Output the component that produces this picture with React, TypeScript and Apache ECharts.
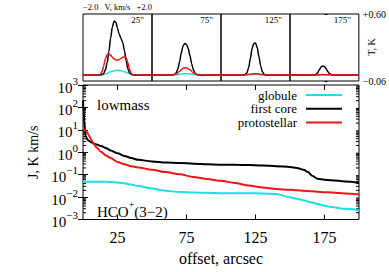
import React, { useEffect, useRef } from 'react';
import * as echarts from 'echarts';

const FONT = '"Liberation Serif", "Times New Roman", serif';
const CYAN = '#18e0e6';
const RED = '#f01414';
const BLACK = '#000000';

// ---- main plot: integrated intensity J vs offset ----
const offsets = [0, 0.5, 1, 1.5, 2, 3, 4, 5, 6, 8, 10, 13, 17, 20, 25, 30, 35, 40, 50, 60, 70, 80, 90, 100, 110, 120, 130, 140, 150, 155, 160, 163, 166, 170, 175, 180, 190, 200];
const firstCore = [200, 60, 20, 9, 5.5, 3.8, 3.3, 3.0, 2.8, 2.4, 2.2, 1.9, 1.5, 1.2, 0.9, 0.68, 0.55, 0.46, 0.39, 0.35, 0.33, 0.31, 0.29, 0.28, 0.275, 0.27, 0.255, 0.24, 0.22, 0.2, 0.165, 0.13, 0.09, 0.065, 0.059, 0.056, 0.05, 0.043];
const protostellar = [10, 10, 9.8, 9.5, 9.2, 7.8, 6.2, 4.6, 3.5, 2.3, 1.6, 1.05, 0.7, 0.55, 0.37, 0.29, 0.24, 0.21, 0.165, 0.13, 0.105, 0.078, 0.064, 0.053, 0.043, 0.033, 0.027, 0.023, 0.021, 0.02, 0.019, 0.0185, 0.018, 0.0175, 0.0165, 0.016, 0.0145, 0.013];
const globule = [0.048, 0.048, 0.048, 0.048, 0.048, 0.048, 0.048, 0.048, 0.048, 0.048, 0.048, 0.048, 0.048, 0.047, 0.045, 0.041, 0.036, 0.031, 0.024, 0.019, 0.017, 0.016, 0.0155, 0.015, 0.015, 0.0148, 0.0145, 0.0138, 0.0098, 0.0085, 0.0072, 0.0064, 0.0057, 0.0049, 0.0041, 0.0036, 0.003, 0.0026];

const xTickValues = [25, 75, 125, 175];
const decades = [-3, -2, -1, 0, 1, 2];
const minorMultipliers = [2, 3, 4, 5, 6, 7, 8, 9];

// ---- top panels: spectra T vs V ----
const panelLabels = ['25"', '75"', '125"', '175"'];
const spec25Cyan = [[-2, 0], [-1.0, 0], [-0.8, 0.005], [-0.6, 0.015], [-0.4, 0.03], [-0.2, 0.042], [0, 0.045], [0.2, 0.042], [0.4, 0.032], [0.6, 0.018], [0.8, 0.006], [1.0, 0], [2, 0]];
const spec25Black = [[-2, 0], [-1.0, 0], [-0.9, 0.003], [-0.8, 0.015], [-0.7, 0.05], [-0.6, 0.12], [-0.5, 0.23], [-0.4, 0.36], [-0.3, 0.47], [-0.2, 0.53], [-0.1, 0.52], [0, 0.46], [0.1, 0.4], [0.2, 0.36], [0.3, 0.32], [0.4, 0.24], [0.5, 0.14], [0.6, 0.06], [0.7, 0.02], [0.8, 0.005], [0.9, 0], [2, 0]];
const spec25Red = [[-2, 0], [-1.1, 0], [-1.0, 0.005], [-0.9, 0.03], [-0.8, 0.09], [-0.7, 0.16], [-0.6, 0.2], [-0.5, 0.205], [-0.4, 0.195], [-0.3, 0.175], [-0.2, 0.158], [-0.1, 0.148], [0, 0.146], [0.1, 0.15], [0.2, 0.162], [0.3, 0.175], [0.4, 0.18], [0.5, 0.17], [0.6, 0.12], [0.7, 0.05], [0.8, 0.012], [0.9, 0.002], [1.0, 0], [2, 0]];
const spec75Cyan = [[-2, 0], [-0.8, 0], [-0.5, 0.004], [-0.2, 0.011], [0, 0.012], [0.2, 0.01], [0.5, 0.003], [0.8, 0], [2, 0]];
const spec75Black = [[-2, 0], [-0.8, 0], [-0.7, 0.005], [-0.6, 0.02], [-0.5, 0.06], [-0.4, 0.13], [-0.3, 0.22], [-0.2, 0.285], [-0.1, 0.31], [0, 0.3], [0.1, 0.26], [0.2, 0.19], [0.3, 0.11], [0.4, 0.05], [0.5, 0.015], [0.6, 0.003], [0.7, 0], [2, 0]];
const spec75Red = [[-2, 0], [-0.8, 0], [-0.6, 0.008], [-0.4, 0.035], [-0.2, 0.065], [-0.1, 0.07], [0, 0.068], [0.2, 0.05], [0.4, 0.02], [0.6, 0.004], [0.8, 0], [2, 0]];
const spec125Cyan = [[-2, 0], [-0.6, 0], [-0.3, 0.003], [0, 0.006], [0.3, 0.003], [0.6, 0], [2, 0]];
const spec125Black = [[-2, 0], [-0.7, 0], [-0.6, 0.004], [-0.5, 0.02], [-0.4, 0.07], [-0.3, 0.16], [-0.2, 0.26], [-0.1, 0.31], [0, 0.315], [0.1, 0.27], [0.2, 0.18], [0.3, 0.09], [0.4, 0.03], [0.5, 0.007], [0.6, 0], [2, 0]];
const spec125Red = [[-2, 0], [-0.6, 0], [-0.3, 0.006], [-0.1, 0.012], [0.1, 0.011], [0.3, 0.005], [0.6, 0], [2, 0]];
const spec175Cyan = [[-2, 0], [2, 0]];
const spec175Black = [[-2, 0], [-0.6, 0], [-0.5, 0.005], [-0.4, 0.02], [-0.3, 0.05], [-0.2, 0.077], [-0.1, 0.088], [0, 0.082], [0.1, 0.06], [0.2, 0.032], [0.3, 0.012], [0.4, 0.003], [0.5, 0], [2, 0]];
const spec175Red = [[-2, 0], [-0.4, 0], [-0.1, 0.003], [0.2, 0.001], [0.5, 0], [2, 0]];

const panelSpectra = [
  [spec25Cyan, spec25Black, spec25Red],
  [spec75Cyan, spec75Black, spec75Red],
  [spec125Cyan, spec125Black, spec125Red],
  [spec175Cyan, spec175Black, spec175Red],
];
const tRange = [-0.06, 0.6];
const tLabels: Record<string, string> = { '-0.06': '\u22120.06', '0.6': '+0.60' };

const MAIN = { left: 83, top: 85, width: 276, height: 134.5 };
const PANEL = { top: 14, height: 67, width: 69 };

export default function App() {
  const ref = useRef<HTMLDivElement>(null);
  useEffect(() => {
    document.body.style.margin = '0';
    if (!ref.current) return;
    const chart = echarts.init(ref.current, undefined, { renderer: 'svg' });

    const minorTicks: number[][] = [];
    decades.forEach((d) => minorMultipliers.forEach((m) => minorTicks.push([0, m * Math.pow(10, d)])));

    const grids: any[] = [
      { left: MAIN.left, top: MAIN.top, width: MAIN.width, height: MAIN.height, show: true, borderColor: '#000', borderWidth: 1, backgroundColor: 'transparent' },
    ];
    const xAxes: any[] = [
      {
        gridIndex: 0, type: 'value', min: 0, max: 200, position: 'bottom',
        axisLine: { show: false }, splitLine: { show: false },
        axisTick: { show: true, inside: true, length: 5, customValues: xTickValues, lineStyle: { color: '#000' } },
        axisLabel: { show: true, customValues: xTickValues, color: '#000', fontSize: 16, fontFamily: FONT, margin: 10 },
        name: 'offset, arcsec', nameLocation: 'middle', nameGap: 31,
        nameTextStyle: { color: '#000', fontSize: 16, fontFamily: FONT },
      },
      {
        gridIndex: 0, type: 'value', min: 0, max: 200, position: 'top',
        axisLine: { show: false }, splitLine: { show: false },
        axisTick: { show: true, inside: true, length: 5, customValues: xTickValues, lineStyle: { color: '#000' } },
        axisLabel: { show: false },
      },
    ];
    const supFmt = (v: number) => {
      const e = Math.round(Math.log10(v));
      return `{b|10}{s|${e < 0 ? '\u2212' + -e : e}}`;
    };
    const yAxes: any[] = [
      {
        gridIndex: 0, type: 'log', logBase: 10, min: 1e-3, max: 1e3, position: 'left',
        axisLine: { show: false }, splitLine: { show: false },
        axisTick: { show: true, inside: true, length: 5, lineStyle: { color: '#000' } },
        axisLabel: {
          formatter: supFmt, margin: 5,
          rich: {
            b: { fontSize: 15, fontFamily: FONT, color: '#000', verticalAlign: 'bottom', lineHeight: 20 },
            s: { fontSize: 11, fontFamily: FONT, color: '#000', verticalAlign: 'top', lineHeight: 20 },
          },
        },
        name: 'J, K km/s', nameLocation: 'middle', nameGap: 43, nameRotate: 90,
        nameTextStyle: { color: '#000', fontSize: 14, fontFamily: FONT },
      },
      {
        gridIndex: 0, type: 'log', logBase: 10, min: 1e-3, max: 1e3, position: 'right',
        axisLine: { show: false }, splitLine: { show: false },
        axisTick: { show: true, inside: true, length: 5, lineStyle: { color: '#000' } },
        axisLabel: { show: false },
      },
    ];

    const series: any[] = [
      {
        type: 'custom', xAxisIndex: 0, yAxisIndex: 0, data: minorTicks, silent: true,
        renderItem: (_p: any, api: any) => {
          const v = api.value(1);
          const l = api.coord([0, v]);
          const r = api.coord([200, v]);
          return {
            type: 'group',
            children: [
              { type: 'line', shape: { x1: l[0], y1: l[1], x2: l[0] + 3, y2: l[1] }, style: { stroke: '#000', lineWidth: 1 } },
              { type: 'line', shape: { x1: r[0] - 3, y1: r[1], x2: r[0], y2: r[1] }, style: { stroke: '#000', lineWidth: 1 } },
            ],
          };
        },
      },
    ];
    const mainLines: [number[], string][] = [[globule, CYAN], [firstCore, BLACK], [protostellar, RED]];
    mainLines.forEach(([vals, color]) => {
      series.push({
        type: 'line', xAxisIndex: 0, yAxisIndex: 0, showSymbol: false, smooth: 0.3, smoothMonotone: 'x',
        data: offsets.map((x, i) => [x, vals[i]]),
        lineStyle: { color, width: 2 }, itemStyle: { color },
      });
    });

    panelSpectra.forEach((specs, i) => {
      const gi = i + 1;
      const ai = i + 2;
      grids.push({ left: MAIN.left + PANEL.width * i, top: PANEL.top, width: PANEL.width, height: PANEL.height, show: true, borderColor: '#000', borderWidth: 1, backgroundColor: 'transparent' });
      xAxes.push({ gridIndex: gi, type: 'value', min: -2, max: 2, show: false });
      const last = i === panelSpectra.length - 1;
      yAxes.push(last ? {
        gridIndex: gi, type: 'value', min: tRange[0], max: tRange[1], position: 'right',
        axisLine: { show: false }, splitLine: { show: false },
        axisTick: { show: true, inside: false, length: 3, customValues: tRange, lineStyle: { color: '#000' } },
        axisLabel: { show: true, customValues: tRange, formatter: (v: number) => tLabels[String(v)] ?? '', color: '#000', fontSize: 10, fontFamily: FONT, margin: 4 },
      } : { gridIndex: gi, type: 'value', min: tRange[0], max: tRange[1], show: false });
      const colors = [CYAN, BLACK, RED];
      specs.forEach((d, k) => {
        series.push({
          type: 'line', xAxisIndex: ai, yAxisIndex: ai, showSymbol: false, smooth: 0.3, smoothMonotone: 'x',
          data: d, lineStyle: { color: colors[k], width: 1.5 }, itemStyle: { color: colors[k] },
        });
      });
    });

    const graphic: any[] = [
      { type: 'text', x: 97, y: 105, style: { text: 'lowmass', fontSize: 15, fontFamily: FONT, fill: '#000', verticalAlign: 'middle' } },
      {
        type: 'text', x: 97, y: 209,
        style: {
          text: '{a|HCO}{s|+}{a|(3\u22122)}', verticalAlign: 'middle', fill: '#000',
          rich: {
            a: { fontSize: 15, fontFamily: FONT, fill: '#000', verticalAlign: 'bottom', lineHeight: 20 },
            s: { fontSize: 10, fontFamily: FONT, fill: '#000', verticalAlign: 'top', lineHeight: 20 },
          },
        },
      },
      { type: 'text', x: 83, y: 7, style: { text: '\u22122.0', fontSize: 8.5, fontFamily: FONT, fill: '#000', align: 'left', verticalAlign: 'middle' } },
      { type: 'text', x: 117.5, y: 7, style: { text: 'V, km/s', fontSize: 8.5, fontFamily: FONT, fill: '#000', align: 'center', verticalAlign: 'middle' } },
      { type: 'text', x: 152, y: 7, style: { text: '+2.0', fontSize: 8.5, fontFamily: FONT, fill: '#000', align: 'right', verticalAlign: 'middle' } },
      { type: 'text', x: 371, y: 47, rotation: Math.PI / 2, style: { text: 'T, K', fontSize: 10, fontFamily: FONT, fill: '#000', align: 'center', verticalAlign: 'middle' } },
    ];
    panelLabels.forEach((t, i) => {
      graphic.push({ type: 'text', x: MAIN.left + PANEL.width * (i + 1) - 8, y: 20, style: { text: t, fontSize: 9, fontFamily: FONT, fill: '#000', align: 'right', verticalAlign: 'middle' } });
    });
    const legendItems: [string, string][] = [['globule', CYAN], ['first core', BLACK], ['protostellar', RED]];
    legendItems.forEach(([name, color], i) => {
      const y = 95 + i * 13.8;
      graphic.push({ type: 'text', x: 297, y, style: { text: name, fontSize: 13, fontFamily: FONT, fill: '#000', align: 'right', verticalAlign: 'middle' } });
      graphic.push({ type: 'line', shape: { x1: 306, y1: y, x2: 342, y2: y }, style: { stroke: color, lineWidth: 2 } });
    });

    chart.setOption({
      animation: false,
      backgroundColor: '#fff',
      grid: grids,
      xAxis: xAxes,
      yAxis: yAxes,
      series,
      graphic,
    });
    return () => chart.dispose();
  }, []);
  return <div ref={ref} style={{ width: 389, height: 272 }} />;
}
